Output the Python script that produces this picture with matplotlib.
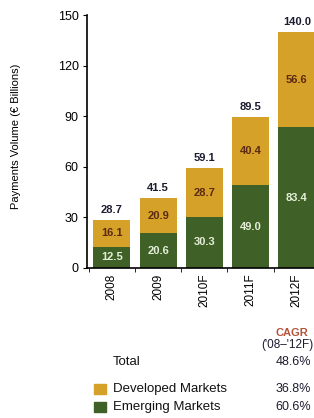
import numpy as np
import matplotlib.pyplot as plt
from matplotlib.patches import Rectangle

plt.rcParams['font.family'] = ['Liberation Sans', 'DejaVu Sans']

years = ["2008", "2009", "2010F", "2011F", "2012F"]
emerging = [12.5, 20.6, 30.3, 49.0, 83.4]
developed = [16.1, 20.9, 28.7, 40.4, 56.6]
totals = ["28.7", "41.5", "59.1", "89.5", "140.0"]
cagr_rows = ["Total", "Developed Markets", "Emerging Markets"]
cagr_vals = ["48.6%", "36.8%", "60.6%"]

GOLD = "#D6A128"
GREEN = "#3F6127"
NAVY = "#1c1c30"

fig = plt.figure(figsize=(3.14, 4.18), dpi=100)
ax = fig.add_axes([0.277, 0.359, 0.73, 0.605])

x = np.arange(len(years))
ax.bar(x, emerging, width=0.8, color=GREEN)
ax.bar(x, developed, width=0.8, bottom=emerging, color=GOLD)

for i in range(len(years)):
    ax.text(x[i], emerging[i] / 2, f"{emerging[i]:.1f}", ha="center", va="center",
            fontsize=8, color="#e4eed8", fontweight="bold")
    ax.text(x[i], emerging[i] + developed[i] / 2, f"{developed[i]:.1f}", ha="center",
            va="center", fontsize=8, color="#5a2a12", fontweight="bold")
    ax.text(x[i], emerging[i] + developed[i] + 3, totals[i], ha="center", va="bottom",
            fontsize=8, color=NAVY, fontweight="bold")

ax.set_xlim(-0.54, 4.42)
ax.set_ylim(0, 150)
ax.set_yticks([0, 30, 60, 90, 120, 150])
ax.set_xticks(x)
ax.set_xticklabels(years, rotation=90, fontsize=8.5)
ax.tick_params(axis="x", length=0, pad=4)
ax.set_xticks(np.arange(-0.5, 4, 1), minor=True)
ax.tick_params(axis="x", which="minor", length=3, direction="out")
ax.tick_params(axis="y", length=3, labelsize=9, pad=3)
for s in ["top", "right"]:
    ax.spines[s].set_visible(False)
ax.spines["left"].set_linewidth(1.2)
ax.spines["bottom"].set_linewidth(1.2)
ax.set_ylabel("Payments Volume (€ Billions)", fontsize=8)
ax.yaxis.set_label_coords(-0.29, 0.52)

# CAGR table
fig.text(0.929, 0.203, "CAGR", ha="center", va="center", fontsize=8,
         color="#b5523a", fontweight="bold")
fig.text(0.915, 0.175, "('08\u2013'12F)", ha="center", va="center", fontsize=8.5, color=NAVY)
ys = [0.134, 0.069, 0.026]
for lbl, val, yy in zip(cagr_rows, cagr_vals, ys):
    fig.text(0.36, yy, lbl, ha="left", va="center", fontsize=9.5, color="#111111")
    fig.text(0.935, yy, val, ha="center", va="center", fontsize=9, color=NAVY)
fig.patches.append(Rectangle((0.300, ys[1] - 0.012), 0.037, 0.024, transform=fig.transFigure,
                             color=GOLD, figure=fig))
fig.patches.append(Rectangle((0.300, ys[2] - 0.012), 0.037, 0.024, transform=fig.transFigure,
                             color=GREEN, figure=fig))

fig.savefig("out.png", dpi=100)
